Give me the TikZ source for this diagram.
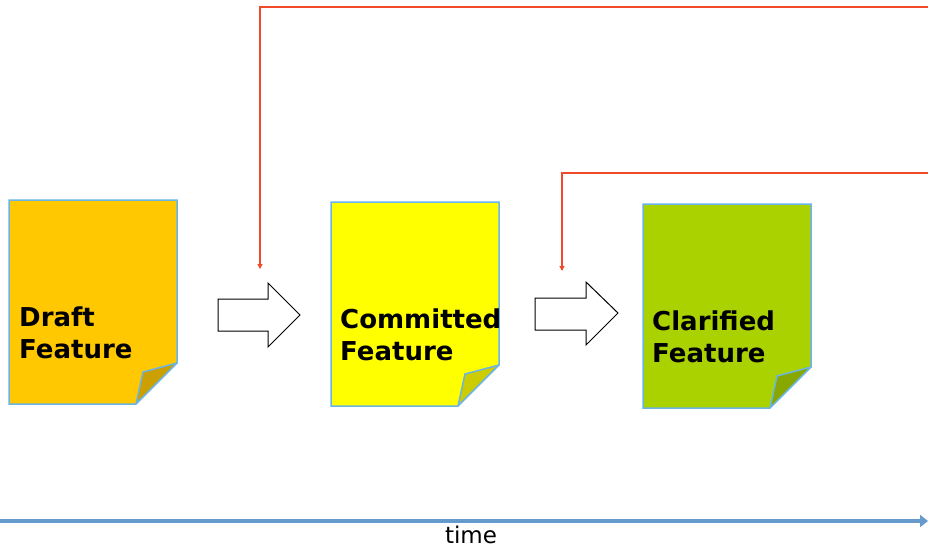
\documentclass[tikz,border=0pt]{standalone}
\usepackage{fontspec}
\setmainfont{DejaVu Sans}
\usetikzlibrary{arrows.meta}
\definecolor{docborder}{HTML}{6AB4E6}
\definecolor{draftfill}{HTML}{FFC800}
\definecolor{draftfold}{HTML}{CBA000}
\definecolor{commitfill}{HTML}{FFFF00}
\definecolor{commitfold}{HTML}{CCCC00}
\definecolor{clarfill}{HTML}{AAD200}
\definecolor{clarfold}{HTML}{88A800}
\definecolor{redline}{HTML}{F04A2A}
\definecolor{timeblue}{HTML}{6699CC}
\tikzset{
  docshape/.style={draw=docborder, line width=1.5pt, line join=miter},
  foldshape/.style={draw=docborder, line width=1.5pt},
  doctext/.style={anchor=base west, inner sep=0pt, font=\fontsize{26}{32}\selectfont\bfseries, align=left},
  blockarrow/.style={draw=black, line width=1pt, fill=white},
  feedback/.style={draw=redline, line width=1.5pt, -{Triangle[length=5pt,width=5pt]}},
  timeaxis/.style={draw=timeblue, line width=4.5pt, -{Triangle[length=8pt,width=12pt]}},
}
\begin{document}
\begin{tikzpicture}[x=1pt,y=-1pt]
\useasboundingbox (0,0) rectangle (928,547);
% documents
\foreach \name/\x/\y/\fc/\fd in {draft/9/200/draftfill/draftfold, commit/331/202/commitfill/commitfold, clar/643/204/clarfill/clarfold}{
  \coordinate (\name-tl) at (\x,\y);
  \fill[\fc] (\x,\y) -- ++(168,0) -- ++(0,163) -- ++(-41,41) -- ++(-127,0) -- cycle;
  \fill[\fd] (\x+168,\y+163) -- (\x+134,\y+172) -- (\x+127,\y+204) -- cycle;
  \draw[docshape] (\x,\y) -- ++(168,0) -- ++(0,163) -- ++(-41,41) -- ++(-127,0) -- cycle;
  \draw[foldshape] (\x+168,\y+163) -- (\x+134,\y+172) -- (\x+127,\y+204);
}
\node[doctext] (draft) at (19,358) {Draft\\Feature};
\node[doctext] (commit) at (340,360) {Committed\\Feature};
\node[doctext] (clar) at (652,362) {Clarified\\Feature};
% block arrows
\draw[blockarrow] (218,299) -- (268,299) -- (268,283) -- (300,315) -- (268,347) -- (268,331) -- (218,331) -- cycle;
\draw[blockarrow] (535,298) -- (586,298) -- (586,282) -- (618,313) -- (586,345) -- (586,330) -- (535,330) -- cycle;
% feedback lines
\coordinate (fb1s) at (928,7);
\coordinate (fb1c) at (260,7);
\coordinate (fb1e) at (260,269);
\coordinate (fb2s) at (928,173);
\coordinate (fb2c) at (562,173);
\coordinate (fb2e) at (562,271);
\draw[feedback] (fb1s) -- (fb1c) -- (fb1e);
\draw[feedback] (fb2s) -- (fb2c) -- (fb2e);
% time axis
\coordinate (t0) at (0,521);
\coordinate (t1) at (928,521);
\draw[timeaxis] (t0) -- (t1);
\node[anchor=base, inner sep=0pt, font=\fontsize{23}{28}\selectfont] (time) at (471,543) {time};
\end{tikzpicture}
\end{document}
